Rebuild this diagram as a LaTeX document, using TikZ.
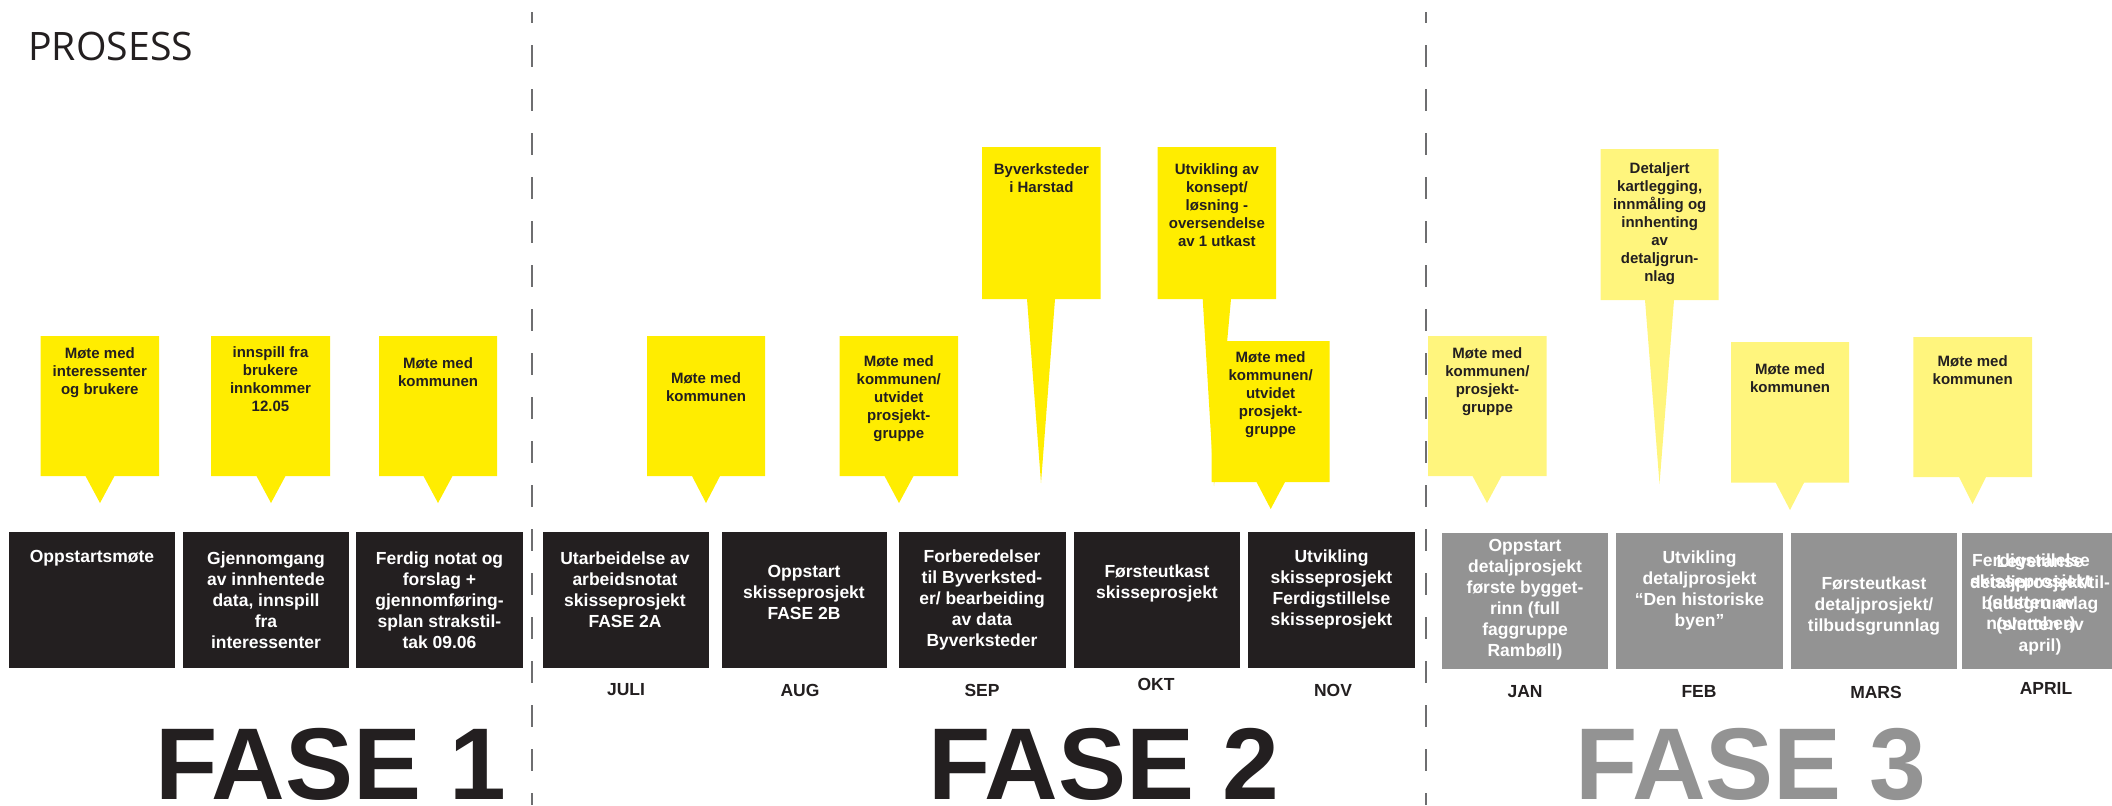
\documentclass[tikz,border=0pt]{standalone}
\usepackage{fontspec}
\setmainfont{Liberation Sans}
\newfontfamily\titlefont{Open Sans}
\usepackage{tikz}
\usepackage{xcolor}
\definecolor{ink}{RGB}{35,31,32}
\definecolor{yel}{RGB}{255,237,0}
\definecolor{paleyel}{RGB}{255,245,125}
\definecolor{boxgrey}{RGB}{147,147,147}
\definecolor{divgrey}{RGB}{110,110,112}

\begin{document}
\begin{tikzpicture}[x=0.5pt, y=-0.5pt,
    yeltext/.style={font=\bfseries\fontsize{7.5}{9}\selectfont, text=ink, align=center, inner sep=0pt},
    boxtext/.style={font=\bfseries\fontsize{8.75}{10.5}\selectfont, text=white, align=center, inner sep=0pt},
    month/.style={font=\bfseries\fontsize{8.75}{10.5}\selectfont, text=ink, inner sep=0pt},
    fase/.style={font=\bfseries\fontsize{51}{51}\selectfont, inner sep=0pt, anchor=base},
    divider/.style={draw=divgrey, line width=0.75pt, dash pattern=on 11pt off 11pt, dash phase=5.5pt}]
                        \useasboundingbox (0,0) rectangle (2112,805);

                        \node[font=\titlefont\fontsize{19.6}{24}\selectfont, text=ink, inner sep=0pt, anchor=base west] (title) at (28,60) {PROSESS};

                        \draw[divider] (532,12) -- (532,805);
                        \draw[divider] (1426,12) -- (1426,805);

                        % callouts
                        \fill[yel] (40.6,336) -- (159,336) -- (159,476) -- (114.5,476) -- (100,503) -- (85.5,476) -- (40.6,476) -- cycle;
                        \fill[yel] (211,336) -- (330,336) -- (330,476) -- (285.5,476) -- (271,503) -- (256.5,476) -- (211,476) -- cycle;
                        \fill[yel] (379,336) -- (497,336) -- (497,476) -- (452.5,476) -- (438,503) -- (423.5,476) -- (379,476) -- cycle;
                        \fill[yel] (647,336) -- (765,336) -- (765,476) -- (720,476) -- (706,503) -- (692,476) -- (647,476) -- cycle;
                        \fill[yel] (839.6,336) -- (958,336) -- (958,476) -- (913.5,476) -- (899,503) -- (884.5,476) -- (839.6,476) -- cycle;
                        \fill[yel] (982,147) -- (1100.7,147) -- (1100.7,299) -- (1055,299) -- (1041,483) -- (1027,299) -- (982,299) -- cycle;
                        \fill[yel] (1157.7,147) -- (1276,147) -- (1276,299) -- (1231,299) -- (1214,486) -- (1202.7,299) -- (1157.7,299) -- cycle;
                        \fill[yel] (1211.5,341) -- (1329.6,341) -- (1329.6,482) -- (1285,482) -- (1270.7,509) -- (1256.5,482) -- (1211.5,482) -- cycle;
                        \fill[paleyel] (1428,336) -- (1546.7,336) -- (1546.7,476) -- (1501.5,476) -- (1487,503) -- (1472.5,476) -- (1428,476) -- cycle;
                        \fill[paleyel] (1600.7,149) -- (1718.7,149) -- (1718.7,300) -- (1674,300) -- (1659.5,484) -- (1645,300) -- (1600.7,300) -- cycle;
                        \fill[paleyel] (1731,342) -- (1849,342) -- (1849,482.7) -- (1804,482.7) -- (1790,510) -- (1775.7,482.7) -- (1731,482.7) -- cycle;
                        \fill[paleyel] (1913.4,337) -- (2032,337) -- (2032,477) -- (1986,477) -- (1972.5,504) -- (1959,477) -- (1913.4,477) -- cycle;

                        \node[yeltext] (c1) at (99.8,373) {Møte med\\interessenter\\og brukere};
                        \node[yeltext] (c2) at (270.5,379) {innspill fra\\brukere\\innkommer\\12.05};
                        \node[yeltext] (c3) at (438,372) {Møte med\\kommunen};
                        \node[yeltext] (c4) at (706,387) {Møte med\\kommunen};
                        \node[yeltext] (c5) at (898.8,398.7) {Møte med\\kommunen/\\utvidet\\prosjekt-\\gruppe};
                        \node[yeltext] (c6) at (1041.4,178) {Byverksteder\\i Harstad};
                        \node[yeltext] (c7) at (1216.9,205) {Utvikling av\\konsept/\\løsning -\\oversendelse\\av 1 utkast};
                        \node[yeltext] (c8) at (1270.6,394.7) {Møte med\\kommunen/\\utvidet\\prosjekt-\\gruppe};
                        \node[yeltext] (c9) at (1487.4,381.3) {Møte med\\kommunen/\\prosjekt-\\gruppe};
                        \node[yeltext] (c10) at (1659.7,224) {Detaljert\\kartlegging,\\innmåling og\\innhenting\\av\\detaljgrun-\\nlag};
                        \node[yeltext] (c11) at (1790,377.7) {Møte med\\kommunen};
                        \node[yeltext] (c12) at (1972.7,370) {Møte med\\kommunen};

                        % timeline boxes
                        \fill[ink] (9,532) rectangle (175,668);
                        \fill[ink] (183,532) rectangle (349,668);
                        \fill[ink] (356,532) rectangle (523,668);
                        \fill[ink] (543,532) rectangle (709,668);
                        \fill[ink] (721.5,532) rectangle (887,668);
                        \fill[ink] (899,532) rectangle (1065.5,668);
                        \fill[ink] (1074,532) rectangle (1240,668);
                        \fill[ink] (1248,532) rectangle (1415,668);
                        \fill[boxgrey] (1442,533) rectangle (1608,669);
                        \fill[boxgrey] (1616,533) rectangle (1783,669);
                        \fill[boxgrey] (1791,533) rectangle (1957,669);
                        \fill[boxgrey] (1961.5,533) rectangle (2112,669);

                        \node[boxtext] (b1) at (92,558) {Oppstartsmøte};
                        \node[boxtext] (b2) at (266,600) {Gjennomgang\\av innhentede\\data, innspill\\fra\\interessenter};
                        \node[boxtext] (b3) at (439.5,600) {Ferdig notat og\\forslag +\\gjennomføring-\\splan strakstil-\\tak 09.06};
                        \node[boxtext] (b4) at (625,589.5) {Utarbeidelse av\\arbeidsnotat\\skisseprosjekt\\FASE 2A};
                        \node[boxtext] (b5) at (804,592) {Oppstart\\skisseprosjekt\\FASE 2B};
                        \node[boxtext] (b6) at (982,600) {Forberedelser\\til Byverksted-\\er/ bearbeiding\\av data\\Byverksteder};
                        \node[boxtext] (b7) at (1157,583.5) {Førsteutkast\\skisseprosjekt};
                        \node[boxtext] (b8) at (1331.5,589.5) {Utvikling\\skisseprosjekt\\Ferdigstillelse\\skisseprosjekt};
                        \node[boxtext] (b9) at (1525,599.5) {Oppstart\\detaljprosjekt\\første bygget-\\rinn (full\\faggruppe\\Rambøll)};
                        \node[boxtext] (b10) at (1699.5,590.5) {Utvikling\\detaljprosjekt\\“Den historiske\\byen”};
                        \node[boxtext] (b11) at (1874,606) {Førsteutkast\\detaljprosjekt/\\tilbudsgrunnlag};
                        \node[boxtext] (b12a) at (2031,593) {Ferdigstillelse\\skisseprosjekt\\(slutten av\\november)};
                        \node[boxtext] (b12b) at (2040,605) {Leveranse\\detaljprosjekt/til-\\budsgrunnlag\\(slutten av\\april)};

                        \node[month] (m1) at (626,690) {JULI};
                        \node[month] (m2) at (800,690) {AUG};
                        \node[month] (m3) at (982,690) {SEP};
                        \node[month] (m4) at (1156,684) {OKT};
                        \node[month] (m5) at (1333,690) {NOV};
                        \node[month] (m6) at (1525,692) {JAN};
                        \node[month] (m7) at (1699,691) {FEB};
                        \node[month] (m8) at (1876,692) {MARS};
                        \node[month] (m9) at (2046,688) {APRIL};

                        \node[fase, text=ink] (f1) at (331,799) {FASE 1};
                        \node[fase, text=ink] (f2) at (1104,799) {FASE 2};
                        \node[fase, text=boxgrey] (f3) at (1751,799) {FASE 3};
                    \end{tikzpicture}
\end{document}
